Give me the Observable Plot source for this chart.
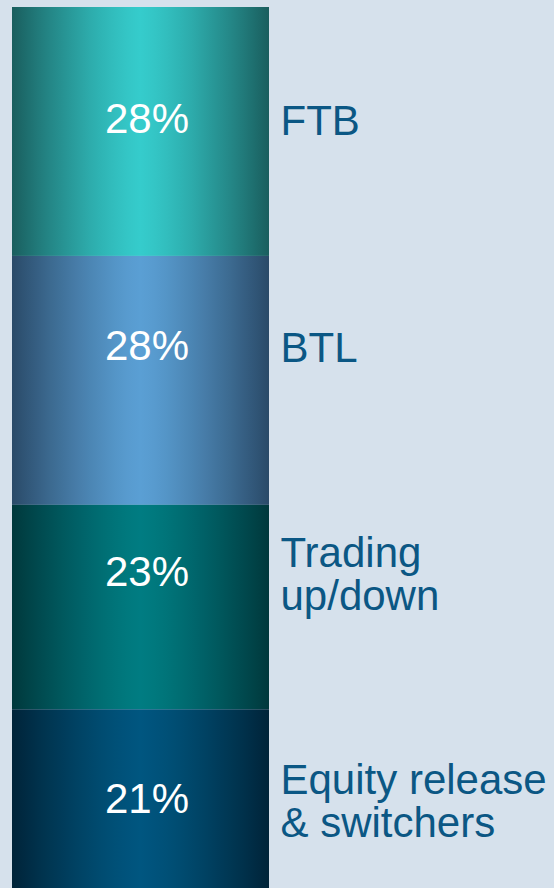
<!DOCTYPE html>
<html>
<head>
<meta charset="utf-8">
<script src="https://cdn.jsdelivr.net/npm/d3@7"></script>
<script src="https://cdn.jsdelivr.net/npm/@observablehq/plot@0.6"></script>
<style>
  html, body { margin: 0; padding: 0; background: #d6e1ec; overflow: hidden; }
  #chart svg { background: #d6e1ec; display: block; }
</style>
</head>
<body>
<div id="chart"></div>
<script>
// Data
const categories = ["FTB", "BTL", "Trading\nup/down", "Equity release\n& switchers"];
const shares = [28, 28, 23, 21];
const shareLabels = ["28%", "28%", "23%", "21%"];

// Styles (gradient colours: edge / centre)
const edgeColors = ["#1a5e5e", "#2a4a68", "#00383c", "#002439"];
const centerColors = ["#35cccc", "#5a9fd4", "#007c82", "#005680"];

const data = categories.map((c, i) => ({category: c, share: shares[i], label: shareLabels[i], i}));

// Layout: evenly spaced label slots (in % units of the bar)
const slotStart = 12.6, slotStep = 25.5;
const FONT = "Arial, 'Liberation Sans', Helvetica, sans-serif";

const plot = Plot.plot({
  width: 554,
  height: 888,
  margin: 0,
  style: {background: "#d6e1ec", fontFamily: FONT},
  x: {domain: [0, 1], range: [12, 269], axis: null},
  y: {domain: [0, 100], range: [7, 896], axis: null},
  color: {type: "identity"},
  marks: [
    Plot.rectY(data, {x1: 0, x2: 1, y: "share", fill: d => `url(#seg-grad-${d.i})`, order: null}),
    Plot.text(data, {
      x: 0.5, y: d => slotStart + d.i * slotStep, text: "label",
      fill: "white", fontSize: 42, fontFamily: FONT, dx: 6, lineAnchor: "middle", textAnchor: "middle"
    }),
    Plot.text(data, {
      x: 1, y: d => slotStart + d.i * slotStep, text: "category",
      fill: "#0b5784", fontSize: 42, fontFamily: FONT, dx: 11, dy: 2, lineAnchor: "middle", textAnchor: "start", lineHeight: 1.02
    })
  ]
});

// Horizontal shading: dark edges, broad light centre
const defs = d3.select(plot).insert("defs", ":first-child");
data.forEach((d, i) => {
  const g = defs.append("linearGradient")
    .attr("id", `seg-grad-${i}`)
    .attr("x1", "0").attr("x2", "1").attr("y1", "0").attr("y2", "0");
  const interp = d3.interpolateRgb(edgeColors[i], centerColors[i]);
  for (let k = 0; k <= 20; k++) {
    const t = k / 20;
    const dd = Math.abs(t - 0.5) * 2;
    const light = Math.max(0, 1 - Math.pow(dd, 1.3));
    g.append("stop").attr("offset", t).attr("stop-color", interp(light));
  }
});

document.getElementById("chart").appendChild(plot);
</script>
</body>
</html>
